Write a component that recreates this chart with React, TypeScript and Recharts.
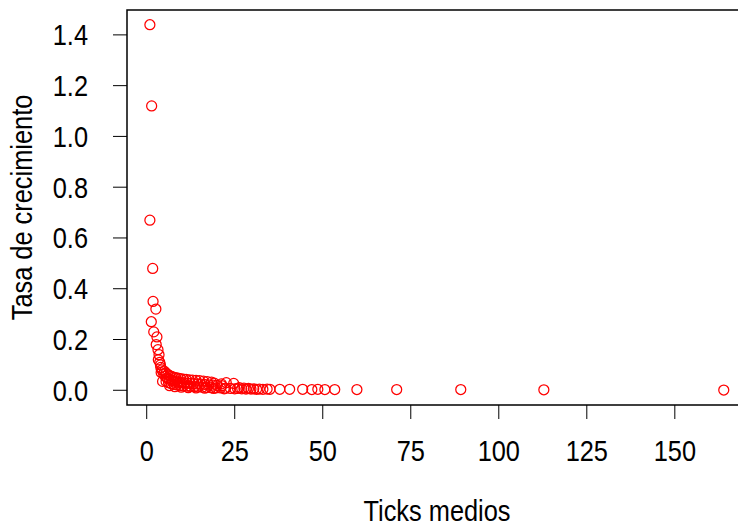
import { ReferenceArea, Scatter, ScatterChart, XAxis, YAxis, Label } from 'recharts'

const ticksMedios = [
  // steep head
  0.9, 1.4, 0.9, 1.7, 1.8, 2.6, 1.3, 2.0, 2.9, 2.7, 3.2, 3.5, 3.3, 3.7, 3.9, 4.0, 4.3, 4.1, 4.8,
  // dense band
  5.0, 5.5, 6.0, 6.5, 7.0, 7.6, 8.2, 8.9, 9.6, 10.4, 11.2, 12.1, 13.0, 14.0, 15.0, 16.1, 17.2, 18.4,
  5.2, 5.8, 6.3, 6.9, 7.5, 8.1, 8.7, 9.3, 10.0, 10.7, 11.5, 12.4, 13.3, 14.3, 15.3, 16.4, 17.6, 18.8, 20.0, 21.3,
  5.5, 6.2, 7.0, 7.8, 8.6, 9.5, 10.4, 11.4, 12.4, 13.5, 14.6, 15.8, 17.0, 18.3, 19.6, 21.0, 22.4, 23.8,
  6.5, 8.0, 9.8, 11.8, 14.0, 16.5, 19.0, 22.0, 25.0,
  19.2, 21.2, 22.6, 24.7, 4.5,
  // tail
  25.8, 26.3, 27.0, 27.6, 28.2, 28.9, 29.6, 30.4, 31.2, 32.0, 33.0, 34.2, 35.0, 37.8, 40.6, 44.3, 46.9,
  48.6, 50.6, 53.4, 59.7, 71.0, 89.2, 112.8, 163.9,
]

const tasaCrecimiento = [
  1.44, 1.12, 0.67, 0.48, 0.35, 0.32, 0.27, 0.23, 0.21, 0.18, 0.16, 0.14, 0.12, 0.11, 0.1, 0.09, 0.08, 0.07, 0.065,
  0.075, 0.068, 0.062, 0.058, 0.055, 0.052, 0.05, 0.048, 0.046, 0.044, 0.043, 0.041, 0.04, 0.039, 0.038, 0.036, 0.034, 0.032,
  0.055, 0.048, 0.044, 0.04, 0.037, 0.035, 0.033, 0.031, 0.03, 0.029, 0.028, 0.027, 0.026, 0.025, 0.024, 0.023, 0.021, 0.02, 0.019, 0.018,
  0.035, 0.03, 0.026, 0.023, 0.021, 0.019, 0.017, 0.016, 0.015, 0.014, 0.013, 0.012, 0.011, 0.01, 0.009, 0.009, 0.008, 0.007,
  0.018, 0.014, 0.012, 0.01, 0.009, 0.008, 0.007, 0.006, 0.006,
  0.028, 0.025, 0.03, 0.027, 0.035,
  0.007, 0.01, 0.006, 0.008, 0.005, 0.007, 0.005, 0.006, 0.004, 0.005, 0.004, 0.005, 0.004, 0.004, 0.004, 0.004, 0.003,
  0.004, 0.003, 0.003, 0.003, 0.003, 0.003, 0.002, 0.001,
]

const xTicks = [0, 25, 50, 75, 100, 125, 150]
const yTicks = [0, 0.2, 0.4, 0.6, 0.8, 1.0, 1.2, 1.4]

const data = ticksMedios.map((x, i) => ({ x, y: tasaCrecimiento[i] }))

const xDomain: [number, number] = [-5.6, 170.5]
const yDomain: [number, number] = [-0.058, 1.498]

const font = "'Liberation Sans', Arial, sans-serif"
const squeeze = 'scale(0.875,1)'

const XTick = ({ x, y, payload }: any) => (
  <g transform={`translate(${x},${y})`}>
    <text transform={squeeze} textAnchor="middle" dy="0.71em" fontSize={29} fontFamily={font} fill="#000">
      {payload.value}
    </text>
  </g>
)

const YTick = ({ x, y, payload }: any) => (
  <g transform={`translate(${x},${y})`}>
    <text transform={squeeze} textAnchor="end" dy="0.355em" fontSize={29} fontFamily={font} fill="#000">
      {Number(payload.value).toFixed(1)}
    </text>
  </g>
)

const ring = (p: any) => (
  <circle cx={p.cx} cy={p.cy} r={5} fill="none" stroke="#ff0000" strokeWidth={1.25} />
)

export default function App() {
  return (
    <div style={{ position: 'fixed', left: 0, top: 0, width: 738, height: 527, overflow: 'hidden', background: '#fff' }}>
      <ScatterChart width={760} height={527} margin={{ top: 10, right: 13, bottom: 0, left: 0 }}>
        <XAxis
          type="number"
          dataKey="x"
          domain={xDomain}
          ticks={xTicks}
          allowDataOverflow
          height={122}
          tick={<XTick />}
          tickSize={14}
          tickMargin={21}
          tickLine={{ stroke: '#000' }}
          axisLine={false}
        >
          <Label
            content={({ viewBox }: any) => {
              const cx = viewBox.x + viewBox.width / 2
              const cy = viewBox.y + 116
              return (
                <g transform={`translate(${cx},${cy})`}>
                  <text transform={squeeze} textAnchor="middle" fontSize={29} fontFamily={font} fill="#000">
                    Ticks medios
                  </text>
                </g>
              )
            }}
          />
        </XAxis>
        <YAxis
          type="number"
          dataKey="y"
          domain={yDomain}
          ticks={yTicks}
          allowDataOverflow
          width={127}
          tick={<YTick />}
          tickSize={14}
          tickMargin={25}
          tickLine={{ stroke: '#000' }}
          axisLine={false}
        >
          <Label
            content={({ viewBox }: any) => {
              const cx = 32
              const cy = viewBox.y + viewBox.height / 2
              return (
                <g transform={`translate(${cx},${cy}) rotate(-90)`}>
                  <text transform={squeeze} textAnchor="middle" fontSize={29} fontFamily={font} fill="#000">
                    Tasa de crecimiento
                  </text>
                </g>
              )
            }}
          />
        </YAxis>
        <ReferenceArea
          x1={xDomain[0]}
          x2={xDomain[1]}
          y1={yDomain[0]}
          y2={yDomain[1]}
          fill="none"
          stroke="#000"
          strokeWidth={1.5}
          ifOverflow="visible"
        />
        <Scatter data={data} shape={ring} isAnimationActive={false} />
      </ScatterChart>
    </div>
  )
}
